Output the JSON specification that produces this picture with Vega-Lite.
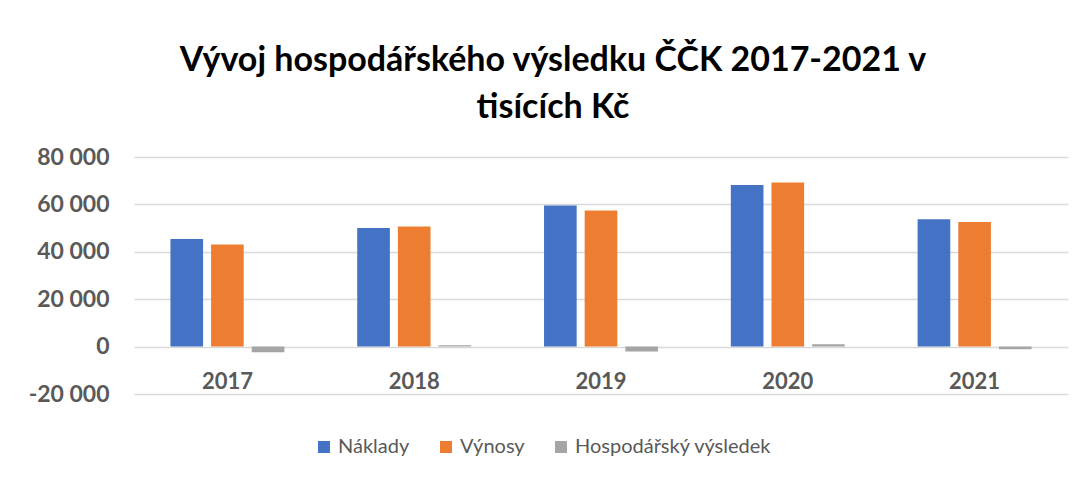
{
  "$schema": "https://vega.github.io/schema/vega-lite/v6.json",
  "width": 934,
  "height": 237,
  "padding": {"left": 28, "top": 44, "right": 15, "bottom": 5},
  "autosize": {"type": "pad"},
  "config": {
    "locale": {"number": {"decimal": ",", "thousands": " ", "grouping": [3], "currency": ["", ""], "minus": "-"}},
    "font": "Lato",
    "view": {"stroke": null}
  },
  "title": {
    "text": ["Vývoj hospodářského výsledku ČČK 2017-2021 v", "tisících Kč"],
    "fontSize": 34,
    "font": "Lato",
    "fontWeight": "bold",
    "color": "#000000",
    "lineHeight": 47,
    "anchor": "middle",
    "offset": 21,
    "dx": -48
  },
  "data": {
    "values": [
      {"year": "2017", "series": "Náklady", "value": 45440},
      {"year": "2017", "series": "Výnosy", "value": 43040},
      {"year": "2017", "series": "Hospodářský výsledek", "value": -2400},
      {"year": "2018", "series": "Náklady", "value": 50080},
      {"year": "2018", "series": "Výnosy", "value": 50630},
      {"year": "2018", "series": "Hospodářský výsledek", "value": 550},
      {"year": "2019", "series": "Náklady", "value": 59490},
      {"year": "2019", "series": "Výnosy", "value": 57380},
      {"year": "2019", "series": "Hospodářský výsledek", "value": -2110},
      {"year": "2020", "series": "Náklady", "value": 68230},
      {"year": "2020", "series": "Výnosy", "value": 69200},
      {"year": "2020", "series": "Hospodářský výsledek", "value": 970},
      {"year": "2021", "series": "Náklady", "value": 53750},
      {"year": "2021", "series": "Výnosy", "value": 52620},
      {"year": "2021", "series": "Hospodářský výsledek", "value": -1130}
    ]
  },
  "mark": {"type": "bar"},
  "encoding": {
    "x": {
      "field": "year",
      "type": "nominal",
      "scale": {"paddingInner": 0.39, "paddingOuter": 0.195},
      "axis": {
        "title": null,
        "labelAngle": 0,
        "domain": false,
        "ticks": false,
        "grid": false,
        "offset": -47,
        "labelPadding": 24,
        "labelFontSize": 22,
        "labelFontWeight": "bold",
        "labelColor": "#595959",
        "labelFont": "Lato"
      }
    },
    "xOffset": {
      "field": "series",
      "type": "nominal",
      "sort": ["Náklady", "Výnosy", "Hospodářský výsledek"],
      "scale": {"paddingInner": 0.197}
    },
    "y": {
      "field": "value",
      "type": "quantitative",
      "scale": {"domain": [-20000, 80000], "nice": false},
      "axis": {
        "title": null,
        "values": [-20000, 0, 20000, 40000, 60000, 80000],
        "format": ",d",
        "domain": false,
        "ticks": false,
        "labelPadding": 25,
        "labelFontSize": 23,
        "labelFontWeight": "bold",
        "labelColor": "#595959",
        "labelFont": "Lato",
        "gridColor": "#d9d9d9",
        "gridWidth": 1.5
      }
    },
    "color": {
      "field": "series",
      "type": "nominal",
      "sort": ["Náklady", "Výnosy", "Hospodářský výsledek"],
      "scale": {"domain": ["Náklady", "Výnosy", "Hospodářský výsledek"], "range": ["#4472c4", "#ed7d31", "#a5a5a5"]},
      "legend": {
        "orient": "none",
        "legendX": 180,
        "legendY": 280,
        "direction": "horizontal",
        "title": null,
        "symbolType": "square",
        "symbolSize": 144,
        "symbolStrokeWidth": 0,
        "labelFontSize": 20,
        "labelColor": "#595959",
        "labelFont": "Lato",
        "labelLimit": 400,
        "columnPadding": 26
      }
    }
  }
}
